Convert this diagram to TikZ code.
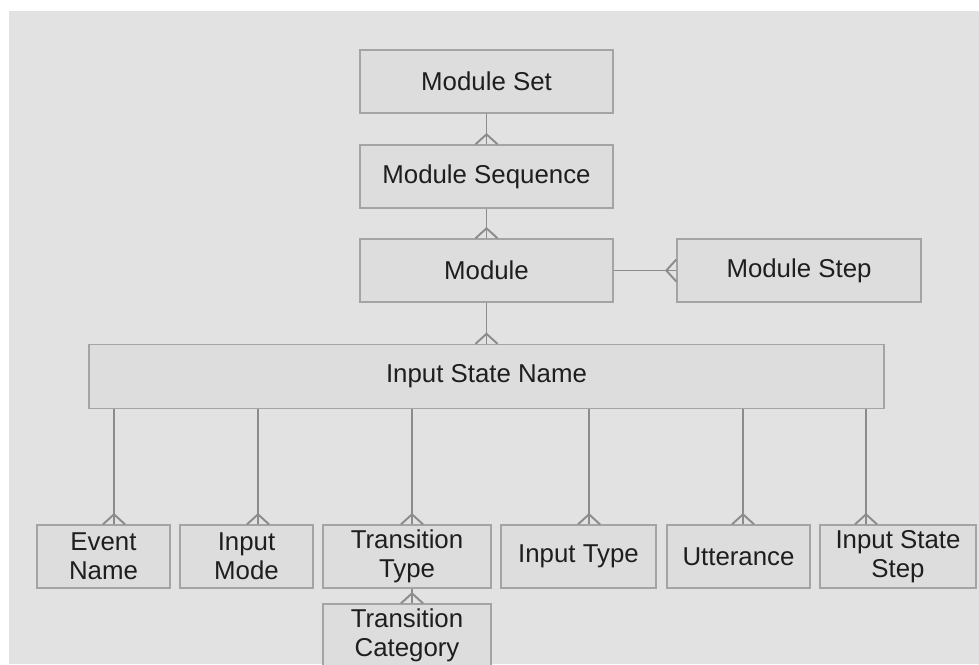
\documentclass[tikz,border=0pt]{standalone}
\usepackage{fontspec}
\setmainfont{Liberation Sans}
\usetikzlibrary{calc}
\newlength\pxu
\setlength\pxu{0.02cm}
\definecolor{Canvas}{HTML}{E2E2E2}
\definecolor{BoxFill}{HTML}{DDDDDD}
\definecolor{BoxLine}{HTML}{A4A4A4}
\definecolor{Link}{HTML}{8C8C8C}
\definecolor{Label}{HTML}{1E1E1E}
\tikzset{
 entity/.style={draw=BoxLine,fill=BoxFill,line width=0.8pt,align=center,text=Label,
   font=\fontsize{14.7}{16.6}\selectfont,minimum height=63\pxu,inner sep=0pt},
 link/.style={draw=Link,line width=1.1pt},
 crow/.pic={\draw[link] (-11,0) -- (0,-10) -- (11,0);}
}

\begin{document}
\begin{tikzpicture}[x=\pxu,y=-\pxu]
\useasboundingbox (0,0) rectangle (979,664);
\clip (0,0) rectangle (979,664);
\fill[white] (0,0) rectangle (979,664);
\fill[Canvas] (9,11) rectangle (979,664);
% module chain
\node[entity,minimum width=253\pxu] (ms) at (486.5,81.5) {Module Set};
\node[entity,minimum width=253\pxu] (mseq) at (486.5,176.5) {Module Sequence};
\node[entity,minimum width=253\pxu] (mod) at (486.5,270.5) {Module};
\node[entity,minimum width=244\pxu] (mstep) at (799,270.5) {Module Step};
\node[entity,minimum width=795\pxu,minimum height=64\pxu] (isn) at (486.5,376.5) {Input State Name};
% children of the input state
\node[entity,minimum width=133\pxu] (en) at (103.5,556.5) {Event\\Name};
\node[entity,minimum width=133\pxu] (im) at (246.5,556.5) {Input\\Mode};
\node[entity,minimum width=168\pxu] (tt) at (407,556.5) {Transition\\Type};
\node[entity,minimum width=155\pxu] (it) at (578.5,556.5) {Input Type};
\node[entity,minimum width=143\pxu] (utt) at (738.5,556.5) {Utterance};
\node[entity,minimum width=156\pxu] (iss) at (898,556.5) {Input State\\Step};
\node[entity,minimum width=168\pxu] (tc) at (407,635.5) {Transition\\Category};
% one-to-many links
\foreach \a/\b in {ms/mseq,mseq/mod} \draw[link] (\a.south) -- (\b.north) pic{crow};
\draw[link] (mod.south) -- (isn.north -| mod) pic{crow};
\draw[link] (mod.east) -- (mstep.west) pic[rotate=90]{crow};
\foreach \b/\x in {en/114,im/258,tt/412,it/589,utt/743,iss/866}
  \draw[link] (isn.south -| \x,0) -- (\b.north -| \x,0) pic{crow};
\draw[link] (tt.south -| 412,0) -- (tc.north -| 412,0) pic{crow};
\end{tikzpicture}
\end{document}
